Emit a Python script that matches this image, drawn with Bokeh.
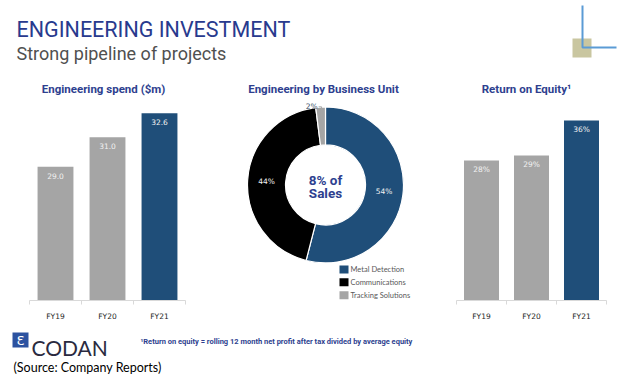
import math
from bokeh.plotting import figure
from bokeh.layouts import row, column
from bokeh.models import Range1d, ColumnDataSource, FixedTicker
from bokeh.core.properties import value
from bokeh.embed import file_html
from bokeh.resources import INLINE

# ---------------- data ----------------
years = ["FY19", "FY20", "FY21"]
spend = [29.0, 31.0, 32.6]
roe = [28, 29, 36]
bar_colors = ["#A5A5A5", "#A5A5A5", "#1F4E79"]

units = ["Metal Detection", "Communications", "Tracking Solutions"]
unit_share = [54, 44, 2]
unit_colors = ["#1F4E79", "#000000", "#A5A5A5"]

NAVY = "#2E3F8F"


def base_fig(width, height, xr, yr):
    p = figure(width=width, height=height, x_range=xr, y_range=yr,
               output_backend="svg", toolbar_location=None, min_border=0,
               outline_line_color=None, x_axis_location=None, y_axis_location=None,
               background_fill_color="white", border_fill_color="white")
    p.grid.visible = False
    return p


# ---------------- header ----------------
h = base_fig(624, 100, Range1d(0, 624), Range1d(-100, 0))
h.text(x=[16], y=[-29], text=["ENGINEERING INVESTMENT"], text_font=value("Roboto"),
       text_font_size="21.5px", text_color="#283A8E", text_baseline="alphabetic", text_align="left")
h.text(x=[16], y=[-53], text=["Strong pipeline of projects"], text_font=value("Roboto"),
       text_font_size="18px", text_color="#505050", text_baseline="alphabetic", text_align="left")
h.quad(left=[572], right=[591], top=[-38], bottom=[-57], fill_color="#C9C6A0", line_color=None)
h.line(x=[582, 582, 616], y=[-5, -47, -47], line_color="#5B9BD5", line_width=2)
chart_titles = ["Engineering spend ($m)", "Engineering by Business Unit", "Return on Equity\u00b9"]
h.text(x=[103, 323, 526], y=[-88, -88, -88], text=chart_titles, text_font=value("Roboto"),
       text_font_size="11.5px", text_font_style="bold", text_color=NAVY,
       text_baseline="middle", text_align="center")


# ---------------- bar charts ----------------
def bar_fig(width, height, left, right, bottom, ystart, yend, vals, labels, bw, yoff):
    p = figure(width=width, height=height, x_range=Range1d(0, len(vals)),
               y_range=Range1d(ystart, yend), output_backend="svg", toolbar_location=None,
               min_border=0, min_border_left=left, min_border_right=right,
               min_border_bottom=bottom, min_border_top=0,
               outline_line_color=None, y_axis_location=None,
               background_fill_color="white", border_fill_color="white")
    p.grid.visible = False
    src = ColumnDataSource(dict(x=[i + 0.5 for i in range(len(vals))], v=vals,
                                lab=labels, c=bar_colors))
    p.vbar(x="x", top="v", width=bw, fill_color="c", line_color=None, source=src)
    p.text(x="x", y="v", text="lab", y_offset=yoff, text_baseline="top", text_align="center",
           text_color="#F2F2F2", text_font=value("DejaVu Sans"), text_font_size="7.5px", source=src)
    ax = p.xaxis[0]
    ax.ticker = FixedTicker(ticks=[i + 0.5 for i in range(len(vals))],
                            minor_ticks=list(range(len(vals) + 1)))
    ax.major_label_overrides = {i + 0.5: y for i, y in enumerate(years)}
    ax.axis_line_color = "#D9D9D9"
    ax.major_tick_line_color = None
    ax.major_tick_out = 0
    ax.major_tick_in = 0
    ax.minor_tick_line_color = "#D9D9D9"
    ax.minor_tick_out = 4
    ax.minor_tick_in = 0
    ax.major_label_standoff = 7
    ax.major_label_text_font = "DejaVu Sans"
    ax.major_label_text_font_size = "7.5px"
    ax.major_label_text_color = "#262626"
    return p


b1 = bar_fig(210, 225, 29, 25, 23, 20, 20 + 202 / 15, spend,
             [f"{v:.1f}" for v in spend], 0.69, 6)
b3 = bar_fig(204, 225, 36, 18, 25, 0, 40, roe,
             [f"{v}%" for v in roe], 0.7, 4)

# ---------------- donut ----------------
d = base_fig(210, 225, Range1d(210, 420), Range1d(-325, -100))
cx, cy, r_in, r_out = 325, -195, 40, 78
total = sum(unit_share)
starts, ends, mids = [], [], []
cum = 0.0
for s in unit_share:
    f = s / total
    starts.append(math.pi / 2 - 2 * math.pi * cum)
    ends.append(math.pi / 2 - 2 * math.pi * (cum + f))
    mids.append(math.pi / 2 - 2 * math.pi * (cum + f / 2))
    cum += f
dsrc = ColumnDataSource(dict(s=starts, e=ends, c=unit_colors))
d.annular_wedge(x=cx, y=cy, inner_radius=r_in, outer_radius=r_out, start_angle="s",
                end_angle="e", direction="clock", fill_color="c", line_color="white",
                line_width=1.2, source=dsrc)

in_x, in_y, in_t = [], [], []
for s, m in zip(unit_share, mids):
    if s >= 10:
        rm = (r_in + r_out) / 2
        in_x.append(cx + rm * math.cos(m))
        in_y.append(cy + rm * math.sin(m))
        in_t.append(f"{s}%")
    else:
        px = cx + r_out * math.cos(m) + 1
        py = cy + r_out * math.sin(m)
        d.line(x=[px, px, px - 3], y=[py, py + 10, py + 10], line_color="#A6A6A6", line_width=1)
        d.text(x=[px - 4], y=[py + 10], text=[f"{s}%"], text_align="right", text_baseline="middle",
               text_color="#44546A", text_font=value("DejaVu Sans"), text_font_size="7.5px")
d.text(x=in_x, y=in_y, text=in_t, text_align="center", text_baseline="middle",
       text_color="#F2F2F2", text_font=value("DejaVu Sans"), text_font_size="7.5px")

d.text(x=[cx, cx], y=[cy + 6, cy - 9], text=["8% of", "Sales"], text_align="center",
       text_baseline="middle", text_color=NAVY, text_font=value("Roboto"),
       text_font_size="13.5px", text_font_style="bold")

leg_y = [-290 - 14.5 * i for i in range(len(units))]
d.rect(x=[343.5] * len(units), y=leg_y, width=9, height=9, fill_color=unit_colors,
       line_color=None)
d.text(x=[350] * len(units), y=leg_y, text=units, text_align="left", text_baseline="middle",
       text_color="#595959", text_font=value("Lato"), text_font_size="7.5px")

# ---------------- footer ----------------
ft = base_fig(624, 53, Range1d(0, 624), Range1d(-378, -325))
ft.quad(left=[12], right=[28], top=[-332], bottom=[-347], fill_color="#2C52A0", line_color=None)
ft.text(x=[20], y=[-339.5], text=["\u0190"], text_align="center", text_baseline="middle",
        text_color="white", text_font=value("DejaVu Sans"), text_font_size="13px")
ft.text(x=[31], y=[-347], text=["CODAN"], text_align="left", text_baseline="alphabetic",
        text_color="#2A2A40", text_font=value("Lato"), text_font_size="21px")
ft.text(x=[140], y=[-341], text=["\u00b9Return on equity = rolling 12 month net profit after tax divided by average equity"],
        text_align="left", text_baseline="middle", text_color=NAVY, text_font=value("Roboto"),
        text_font_size="7.5px", text_font_style="bold")
ft.text(x=[13], y=[-367], text=["(Source: Company Reports)"], text_align="left",
        text_baseline="middle", text_color="#000000", text_font=value("Lato"), text_font_size="12.5px")

layout = column(h, row(b1, d, b3), ft)
open("out.html", "w").write(file_html(layout, INLINE))
